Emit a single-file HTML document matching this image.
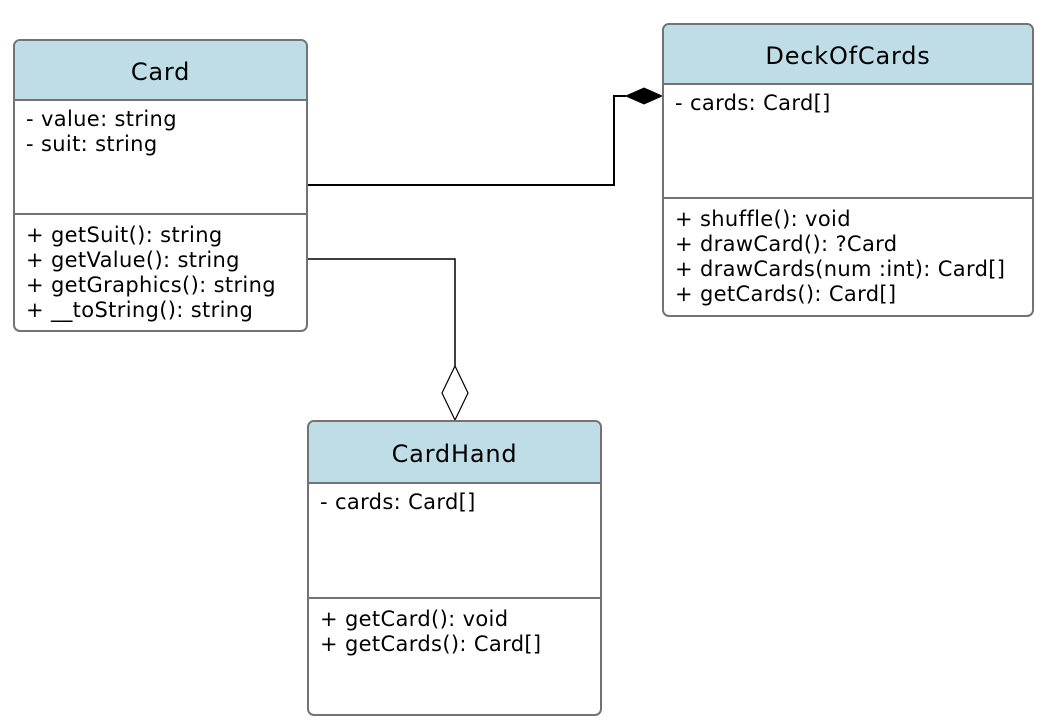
<!DOCTYPE html>
<html><head><style>
body{margin:0;width:1056px;height:728px;background:#fff;position:relative;font-family:"DejaVu Sans","Liberation Sans",sans-serif;overflow:hidden}
.b{position:absolute;border:2px solid #737373;border-radius:7px;box-sizing:border-box;background:#fff;overflow:hidden}
.h{background:#bedde6;border-bottom:2px solid #737373;box-sizing:border-box;text-align:center;font-size:24px;letter-spacing:0.8px;color:#000}
.s{position:absolute;left:0;right:0;padding:8px 0 0 11px;font-size:21px;letter-spacing:0.35px;line-height:25px;color:#000;white-space:pre;box-sizing:border-box}
.d{position:absolute;left:0;right:0;border-top:2px solid #737373}
svg{position:absolute;left:0;top:0}
</style></head><body>
<svg width="1056" height="728">
<polyline points="307,185 614,185 614,96 626,96" fill="none" stroke="#000" stroke-width="2"/>
<polygon points="626,96 644,88 662,96 644,104" fill="#000" stroke="#000"/>
<polyline points="307,259 455,259 455,366" fill="none" stroke="#000" stroke-width="1.5"/>
<polygon points="455,366 468,393 455,420 442,393" fill="#fff" stroke="#000" stroke-width="1.2"/>
</svg>
<div class="b" style="left:13px;top:39px;width:295px;height:293px">
<div class="h" style="height:60px;line-height:62px">Card</div>
<div class="s" style="top:58px">- value: string
- suit: string</div>
<div class="d" style="top:172px"></div>
<div class="s" style="top:173px;padding-top:9px">+ getSuit(): string
+ getValue(): string
+ getGraphics(): string
+ __toString(): string</div>
</div>
<div class="b" style="left:662px;top:23px;width:372px;height:294px">
<div class="h" style="height:60px;line-height:62px">DeckOfCards</div>
<div class="s" style="top:58px">- cards: Card[]</div>
<div class="d" style="top:172px"></div>
<div class="s" style="top:173px;padding-top:9px">+ shuffle(): void
+ drawCard(): ?Card
+ drawCards(num :int): Card[]
+ getCards(): Card[]</div>
</div>
<div class="b" style="left:307px;top:420px;width:295px;height:296px">
<div class="h" style="height:62px;line-height:64px">CardHand</div>
<div class="s" style="top:60px">- cards: Card[]</div>
<div class="d" style="top:175px"></div>
<div class="s" style="top:176px;padding-top:9px">+ getCard(): void
+ getCards(): Card[]</div>
</div>
</body></html>
